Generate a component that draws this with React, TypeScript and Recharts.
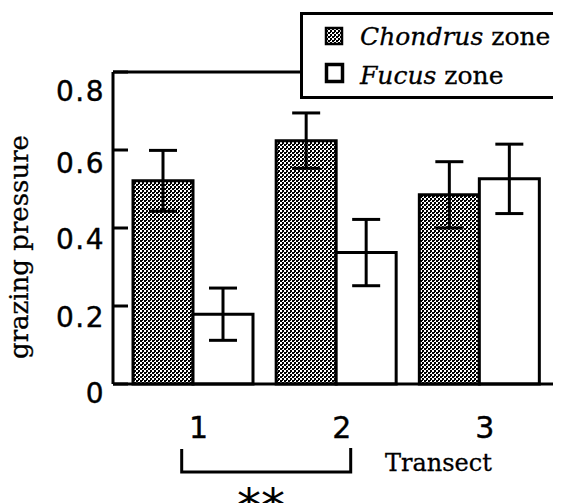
import React from 'react';
import { BarChart, Bar, XAxis, YAxis, ErrorBar, ReferenceLine } from 'recharts';

const transects = ['1', '2', '3'];
const chondrus = [0.521, 0.624, 0.485];
const chondrusErr = [0.078, 0.071, 0.085];
const fucus = [0.179, 0.337, 0.526];
const fucusErr = [0.067, 0.085, 0.089];
const yTicks = [0, 0.2, 0.4, 0.6, 0.8];
const yTickLabels = ['0', '0.2', '0.4', '0.6', '0.8'];

const data = transects.map((t, i) => ({
  transect: t,
  chondrus: chondrus[i],
  chondrusErr: chondrusErr[i],
  fucus: fucus[i],
  fucusErr: fucusErr[i],
}));

const W = 553;
const H = 495;
const yLabelDy = [19, 21, 21, 23, 29];

const YTick = (props: any) => {
  const { x, y, payload } = props;
  const i = yTicks.indexOf(payload.value);
  return (
    <g>
      <line x1={x} x2={x + 15} y1={y} y2={y} stroke="#000" strokeWidth={3} />
      <text
        x={x - 8}
        y={y + yLabelDy[i]}
        textAnchor="end"
        fontFamily="DejaVu Sans"
        fontSize={28}
        letterSpacing={1.5}
        fill="#000"
        stroke="#000"
        strokeWidth={0.4}
      >
        {yTickLabels[i]}
      </text>
    </g>
  );
};

const XTick = (props: any) => {
  const { x, y, payload } = props;
  return (
    <text
      x={x + 6}
      y={y + 54}
      textAnchor="middle"
      fontFamily="DejaVu Sans"
      fontSize={30}
      fill="#000"
      stroke="#000"
      strokeWidth={0.4}
    >
      {payload.value}
    </text>
  );
};

const Stipple = ({ id }: { id: string }) => (
  <pattern id={id} x={0} y={0} width={4} height={4} patternUnits="userSpaceOnUse">
    <rect x={0} y={0} width={4} height={4} fill="#fff" />
    <rect x={0} y={0} width={2} height={2} fill="#000" />
    <rect x={2} y={2} width={2} height={2} fill="#000" />
    <rect x={2} y={0} width={1} height={1} fill="#000" />
  </pattern>
);

export default function App() {
  return (
    <div style={{ position: 'relative', width: W, height: H }}>
      <BarChart
        width={W}
        height={H}
        data={data}
        margin={{ top: 64, right: 0, bottom: 59, left: 0 }}
        barCategoryGap={12}
        barGap={0}
      >
        <defs>
          <Stipple id="stipple" />
        </defs>
        <XAxis
          dataKey="transect"
          height={60}
          padding={{ left: 8, right: 10.5 }}
          axisLine={{ stroke: '#000', strokeWidth: 3 }}
          tickLine={false}
          tickSize={0}
          tickMargin={0}
          tick={<XTick />}
        />
        <YAxis
          width={105}
          domain={[0, 0.8]}
          ticks={yTicks}
          axisLine={{ stroke: '#000', strokeWidth: 3 }}
          tickLine={false}
          tickSize={0}
          tickMargin={0}
          tick={<YTick />}
          interval={0}
        />
        <ReferenceLine y={0.8} stroke="#000" strokeWidth={3} />
        <Bar dataKey="chondrus" fill="url(#stipple)" stroke="#000" strokeWidth={3} isAnimationActive={false}>
          <ErrorBar dataKey="chondrusErr" width={14} stroke="#000" strokeWidth={3} direction="y" />
        </Bar>
        <Bar dataKey="fucus" fill="#fff" stroke="#000" strokeWidth={3} isAnimationActive={false}>
          <ErrorBar dataKey="fucusErr" width={14} stroke="#000" strokeWidth={3} direction="y" />
        </Bar>
      </BarChart>
      <svg
        width={W}
        height={H}
        style={{ position: 'absolute', left: 0, top: 0, pointerEvents: 'none' }}
      >
        <defs>
          <Stipple id="stipple2" />
        </defs>
        <rect x={293.5} y={5.5} width={270} height={84} fill="#fff" stroke="#000" strokeWidth={3} />
        <rect x={318} y={20} width={16} height={16} fill="url(#stipple2)" stroke="#000" strokeWidth={2.5} />
        <rect x={318.5} y={56.5} width={16} height={17} fill="#fff" stroke="#000" strokeWidth={3.5} />
        <text x={352} y={37} fontFamily="DejaVu Serif" fontSize={25} fill="#000" stroke="#000" strokeWidth={0.3}>
          <tspan fontStyle="italic">Chondrus</tspan>
          {' zone'}
        </text>
        <text x={352} y={76} fontFamily="DejaVu Serif" fontSize={25} fill="#000" stroke="#000" strokeWidth={0.3}>
          <tspan fontStyle="italic">Fucus</tspan>
          {' zone'}
        </text>
        <text
          transform="translate(20,239) rotate(-90)"
          textAnchor="middle"
          fontFamily="DejaVu Serif"
          fontSize={26}
          fill="#000"
          stroke="#000"
          strokeWidth={0.3}
        >
          grazing pressure
        </text>
        <text x={377} y={463} fontFamily="DejaVu Serif" fontSize={24} fill="#000" stroke="#000" strokeWidth={0.3}>
          Transect
        </text>
        <path d="M173.7 441 V464 H342.7 V440" fill="none" stroke="#000" strokeWidth={3} />
        <text x={253} y={515} textAnchor="middle" fontFamily="DejaVu Sans" fontSize={48} fill="#000">
          **
        </text>
      </svg>
    </div>
  );
}
